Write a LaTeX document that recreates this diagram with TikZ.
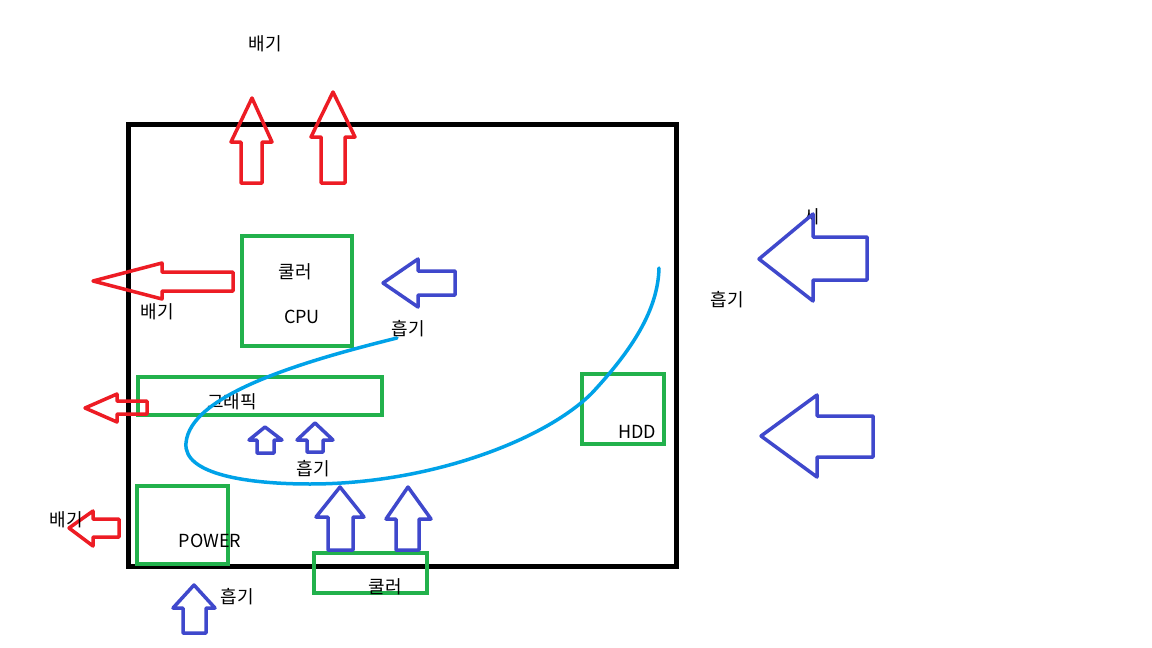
\documentclass[tikz,border=0pt]{standalone}
\usepackage{fontspec}
\setmainfont{Noto Sans CJK KR}
\usepackage{tikz}

\definecolor{exred}{HTML}{ED1C24}
\definecolor{inblue}{HTML}{3F48CC}
\definecolor{partgreen}{HTML}{22B14C}
\definecolor{flowcyan}{HTML}{00A2E8}

\begin{document}
\begin{tikzpicture}[
    x=1pt, y=-1pt,
    every node/.style={font=\fontsize{18}{21}\selectfont, inner sep=0pt},
    case/.style={draw=black, line width=5pt, minimum width=548pt, minimum height=442pt},
    part/.style={draw=partgreen, line width=4pt},
    exarr/.style={draw=exred, line width=3.5pt, line join=round},
    inarr/.style={draw=inblue, line width=3.5pt, line join=round},
    flow/.style={draw=flowcyan, line width=3.5pt, line cap=round},
  ]
  \useasboundingbox[fill=white] (0,0) rectangle (1152,648);
  % case
  \node[case] (box) at (402,345) {};
  % parts
  \node[part, minimum width=110pt, minimum height=110pt] (cpu) at (297,291) {};
  \node[part, minimum width=244pt, minimum height=38pt] (gpu) at (260,396) {};
  \node[part, minimum width=82pt, minimum height=70pt] (hdd) at (623,409) {};
  \node[part, minimum width=91pt, minimum height=78pt] (psu) at (182.5,525) {};
  \node[part, minimum width=113pt, minimum height=40pt] (fan) at (370.5,573) {};
  \node (cpuf) at (295,272) {쿨러};
  \node (cpul) at (302,317) {CPU};
  \node (gpul) at (232,402) {그래픽};
  \node (hddl) at (637,432) {HDD};
  \node (psul) at (210,541) {POWER};
  \node (fanl) at (385,587) {쿨러};
  \node (in5) at (812,217) {시};
  % exhaust
  \draw[exarr] (241,183) -- (241,142) -- (231,142) -- (252,98) -- (272,142) -- (262,142) -- (262,183) -- cycle;
  \draw[exarr] (321,183) -- (321,137) -- (311,137) -- (333,92) -- (355,137) -- (345,137) -- (345,183) -- cycle;
  \draw[exarr] (233,272) -- (162,272) -- (162,263) -- (93,281) -- (162,299) -- (162,291) -- (233,291) -- cycle;
  \draw[exarr] (147,401) -- (117,401) -- (117,394) -- (85,408) -- (117,422) -- (117,414) -- (147,414) -- cycle;
  \draw[exarr] (119,519) -- (93,519) -- (93,511) -- (69,528) -- (93,546) -- (93,537) -- (119,537) -- cycle;
  % intake
  \draw[inarr] (867,237) -- (813,237) -- (813,214) -- (759,259) -- (813,301) -- (813,280) -- (867,280) -- cycle;
  \draw[inarr] (873,416) -- (817,416) -- (817,395) -- (761,436) -- (817,477) -- (817,457) -- (873,457) -- cycle;
  \draw[inarr] (455,271) -- (418,271) -- (418,259) -- (383,283) -- (418,307) -- (418,295) -- (455,295) -- cycle;
  \draw[inarr] (257,453) -- (257,440) -- (249,440) -- (265,427) -- (282,440) -- (274,440) -- (274,453) -- cycle;
  \draw[inarr] (307,452) -- (307,440) -- (297,440) -- (315,423) -- (333,440) -- (323,440) -- (323,452) -- cycle;
  \draw[inarr] (328,550) -- (328,517) -- (316,517) -- (340,487) -- (364,517) -- (353,517) -- (353,550) -- cycle;
  \draw[inarr] (396,550) -- (396,519) -- (386,519) -- (408,487) -- (431,519) -- (419,519) -- (419,550) -- cycle;
  \draw[inarr] (183,633) -- (183,608) -- (173,608) -- (194,585) -- (215,608) -- (206,608) -- (206,633) -- cycle;
  % airflow
  \coordinate (fs) at (397,338);
  \coordinate (fl) at (186,443);
  \coordinate (fb) at (310,484);
  \coordinate (fh) at (592,393);
  \coordinate (fe) at (659,268);
  \draw[flow] (fs) .. controls (300,362) and (190,395) .. (fl)
    .. controls (183,475) and (250,484) .. (fb)
    .. controls (430,484) and (545,440) .. (fh)
    .. controls (632,350) and (658,310) .. (fe);
  % labels
  \node (ex1) at (265,44) {배기};
  \node (ex2) at (157,312) {배기};
  \node (ex3) at (66,520) {배기};
  \node (in1) at (408,329) {흡기};
  \node (in2) at (727,300) {흡기};
  \node (in3) at (313,469) {흡기};
  \node (in4) at (237,597) {흡기};
\end{tikzpicture}
\end{document}
